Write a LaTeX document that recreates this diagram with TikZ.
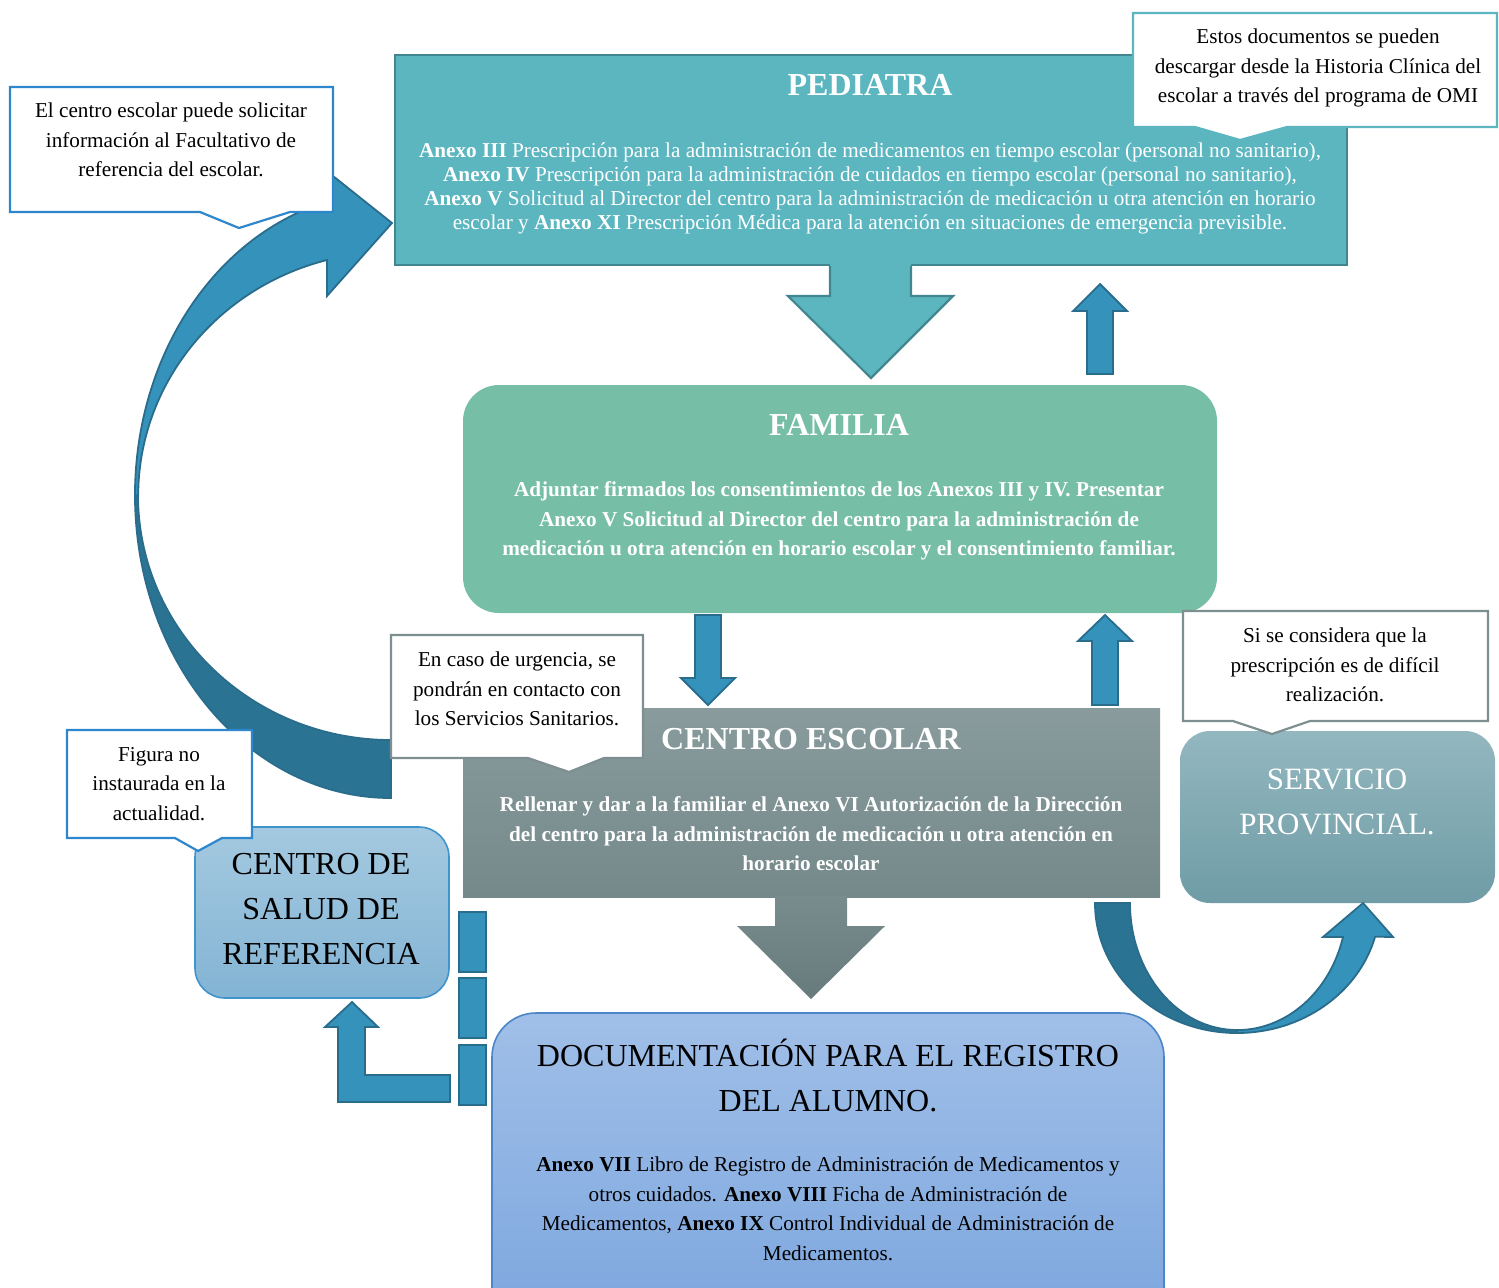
\documentclass[tikz,border=0pt]{standalone}
\usepackage{fontspec}
\setmainfont{Liberation Serif}
\definecolor{pedFill}{HTML}{5BB6C0}
\definecolor{pedEdge}{HTML}{42878F}
\definecolor{famFill}{HTML}{77BEA6}
\definecolor{cenTop}{HTML}{899B9C}
\definecolor{cenBot}{HTML}{75898B}
\definecolor{arrTop}{HTML}{788C8E}
\definecolor{arrBot}{HTML}{677B7D}
\definecolor{arrowBlue}{HTML}{3592BA}
\definecolor{arrowDark}{HTML}{2B7393}
\definecolor{arrowEdge}{HTML}{2A6C8C}
\definecolor{salTop}{HTML}{A4C9E0}
\definecolor{salBot}{HTML}{83B4D4}
\definecolor{salEdge}{HTML}{3F94CB}
\definecolor{serTop}{HTML}{93B7BF}
\definecolor{serBot}{HTML}{6F9CA6}
\definecolor{docTop}{HTML}{A0BFE8}
\definecolor{docBot}{HTML}{7BA5DE}
\definecolor{docEdge}{HTML}{4A86C8}
\definecolor{calBlue}{HTML}{2E86CC}
\definecolor{calGrey}{HTML}{7E8F91}
\newcommand{\fsCall}{\fontsize{10.6}{14.75}\selectfont}
\newcommand{\fsPed}{\fontsize{10.6}{12}\selectfont}
\newcommand{\fsTitle}{\fontsize{16}{22.5}\selectfont}
\begin{document}
\begin{tikzpicture}[x=0.5pt,y=-0.5pt,
  txt/.style={inner sep=0pt, align=center, font=\fsCall},
  wtxt/.style={txt, text=white},
  ttl/.style={inner sep=0pt, align=center, font=\fsTitle\bfseries, text=white},
  bigtxt/.style={inner sep=0pt, align=center, font=\fsTitle},
  blkarrow/.style={fill=arrowBlue, draw=arrowEdge, line width=0.9pt, line join=miter},
  darkarrow/.style={fill=arrowDark, draw=arrowEdge, line width=0.9pt},
  callout/.style={fill=white, line width=1.1pt, line join=miter}]
\useasboundingbox (0,0) rectangle (1499,1287);
\clip (0,0) rectangle (1499,1287);

% ---- left big curved arrow (CENTRO ESCOLAR -> PEDIATRA)
\path[darkarrow] (135,495) arc[start angle=180, end angle=90, x radius=256, y radius=303]
  -- (391,740) arc[start angle=90, end angle=180, x radius=253, y radius=245] -- cycle;
\path[blkarrow] (135,495) arc[start angle=180, end angle=256.2, x radius=256, y radius=303]
  -- (333,176) -- (392,223) -- (327,296) -- (327,260)
  arc[start angle=255.3, end angle=180, x radius=253, y radius=244] -- cycle;

% ---- PEDIATRA box
\path[fill=pedFill, draw=pedEdge, line width=1.3pt] (395,55) rectangle (1347,265);
\path[fill=pedFill] (830,262) -- (911,262) -- (911,296) -- (953,296) -- (871,378) -- (788,296) -- (830,296) -- cycle;
\draw[pedEdge, line width=1.1pt, line join=miter] (830,266) -- (830,296) -- (788,296) -- (871,378) -- (953,296) -- (911,296) -- (911,266);

% ---- FAMILIA box
\path[fill=famFill, rounded corners=18pt] (463,385) rectangle (1217,613);

% ---- small arrows
\path[blkarrow] (1087,374) -- (1087,311) -- (1073,311) -- (1100,284) -- (1127,311) -- (1113,311) -- (1113,374) -- cycle;
\path[blkarrow] (695,615) -- (721,615) -- (721,678) -- (735,678) -- (708,705) -- (681,678) -- (695,678) -- cycle;
\path[blkarrow] (1092,705) -- (1092,641) -- (1078,641) -- (1105,615) -- (1132,641) -- (1118,641) -- (1118,705) -- cycle;

% ---- CENTRO ESCOLAR box and arrow
\path[top color=cenTop, bottom color=cenBot] (463,708) rectangle (1160,897);
\path[top color=arrTop, bottom color=arrBot] (775,896) -- (847,896) -- (847,926) -- (885,926) -- (811,999) -- (737,926) -- (775,926) -- cycle;

% ---- SERVICIO PROVINCIAL box and curved arrow
\path[top color=serTop, bottom color=serBot, rounded corners=15pt] (1180,731) rectangle (1495,903);
\path[darkarrow] (1095,903) arc[start angle=180, end angle=90, x radius=142, y radius=130]
  -- (1237,1030) arc[start angle=90, end angle=180, x radius=107, y radius=127] -- cycle;
\path[blkarrow] (1237,1033) arc[start angle=90, end angle=15, x radius=143, y radius=130]
  -- (1393,937) -- (1363,903) -- (1323,937) -- (1343,937)
  arc[start angle=15.5, end angle=90, x radius=110, y radius=127] -- cycle;

% ---- CENTRO DE SALUD box, dashed bar, L arrow
\path[top color=salTop, bottom color=salBot, draw=salEdge, line width=0.8pt, rounded corners=15pt] (195,827) rectangle (449,998);
\path[blkarrow] (459,912) rectangle (486,972);
\path[blkarrow] (459,978) rectangle (486,1038);
\path[blkarrow] (459,1045) rectangle (486,1105);
\path[blkarrow] (450,1075) -- (365,1075) -- (365,1027) -- (378,1027) -- (352,1002) -- (325,1027) -- (338,1027) -- (338,1102) -- (450,1102) -- cycle;

% ---- DOCUMENTACION box
\path[top color=docTop, bottom color=docBot, draw=docEdge, line width=0.8pt, rounded corners=22pt] (492,1013) rectangle (1164,1340);

% ---- callouts
\path[callout, draw=pedFill] (1133,13) -- (1497,13) -- (1497,127) -- (1287,127) -- (1240,140) -- (1195,127) -- (1133,127) -- cycle;
\path[callout, draw=calBlue] (10,87) -- (333,87) -- (333,212) -- (290,212) -- (239,228) -- (200,212) -- (10,212) -- cycle;
\path[callout, draw=calGrey] (391,635) -- (643,635) -- (643,758) -- (604,758) -- (569,772) -- (528,758) -- (391,758) -- cycle;
\path[callout, draw=calBlue] (67,730) -- (252,730) -- (252,838) -- (222,838) -- (198,851) -- (175,838) -- (67,838) -- cycle;
\path[callout, draw=calGrey] (1183,611) -- (1488,611) -- (1488,721) -- (1310,721) -- (1272,734) -- (1233,721) -- (1183,721) -- cycle;

% ---- texts
\node[ttl] (ped) at (870,85) {PEDIATRA};
\node[inner sep=0pt, align=center, font=\fsPed, text=white] (pedbody) at (870,188)
 {\textbf{Anexo III} Prescripción para la administración de medicamentos en tiempo escolar (personal no sanitario),\\
  \textbf{Anexo IV} Prescripción para la administración de cuidados en tiempo escolar (personal no sanitario),\\
  \textbf{Anexo V} Solicitud al Director del centro para la administración de medicación u otra atención en horario\\
  escolar y \textbf{Anexo XI} Prescripción Médica para la atención en situaciones de emergencia previsible.};

\node[ttl] (fam) at (839,425) {FAMILIA};
\node[wtxt, font=\fsCall\bfseries] (fambody) at (839,521)
 {Adjuntar firmados los consentimientos de los Anexos III y IV. Presentar\\
  Anexo V Solicitud al Director del centro para la administración de\\
  medicación u otra atención en horario escolar y el consentimiento familiar.};

\node[ttl] (cen) at (811,739) {CENTRO ESCOLAR};
\node[wtxt, font=\fsCall\bfseries] (cenbody) at (811,834)
 {Rellenar y dar a la familiar el Anexo VI Autorización de la Dirección\\
  del centro para la administración de medicación u otra atención en\\
  horario escolar};

\node[inner sep=0pt, align=center, font=\fontsize{15.5}{22.5}\selectfont, text=white] (ser) at (1337,802) {SERVICIO\\PROVINCIAL.};

\node[bigtxt] (sal) at (321,909) {CENTRO DE\\SALUD DE\\REFERENCIA};

\node[bigtxt] (doc) at (828,1075) {DOCUMENTACIÓN PARA EL REGISTRO\\DEL ALUMNO.};
\node[txt] (docbody) at (828,1209)
 {\textbf{Anexo VII} Libro de Registro de Administración de Medicamentos y\\
  otros cuidados. \textbf{Anexo VIII} Ficha de Administración de\\
  Medicamentos, \textbf{Anexo IX} Control Individual de Administración de\\
  Medicamentos.};

\node[txt] (c1) at (1318,68) {Estos documentos se pueden\\descargar desde la Historia Clínica del\\escolar a través del programa de OMI};
\node[txt] (c2) at (171,140) {El centro escolar puede solicitar\\información al Facultativo de\\referencia del escolar.};
\node[txt] (c3) at (517,689) {En caso de urgencia, se\\pondrán en contacto con\\los Servicios Sanitarios.};
\node[txt] (c4) at (159,784) {Figura no\\instaurada en la\\actualidad.};
\node[txt] (c5) at (1335,665) {Si se considera que la\\prescripción es de difícil\\realización.};
\end{tikzpicture}
\end{document}
